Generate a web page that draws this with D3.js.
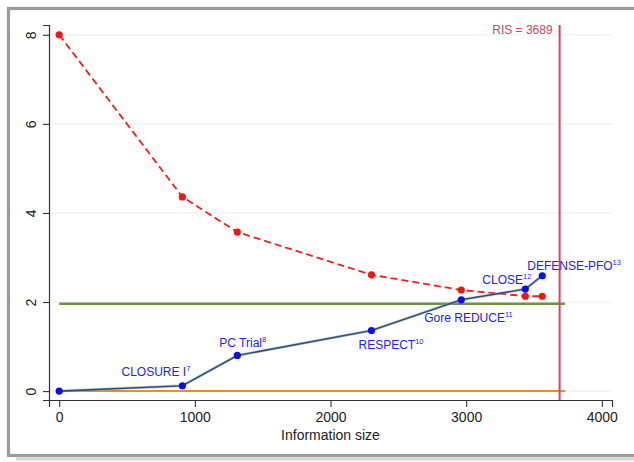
<!DOCTYPE html>
<html>
<head>
<meta charset="utf-8">
<script src="https://cdn.jsdelivr.net/npm/d3@7"></script>
<style>
  html, body { margin: 0; padding: 0; background: #fff; }
  svg { display: block; font-family: "Liberation Sans", Arial, sans-serif; }
</style>
</head>
<body>
<svg id="chart" width="634" height="462"></svg>
<script>
// Cumulative information size after each trial
const infoSize = [0, 908, 1313, 2302, 2964, 3436, 3561];
// Cumulative Z-curve
const zCurve = [0, 0.12, 0.80, 1.36, 2.05, 2.29, 2.59];
// Trial sequential monitoring boundary
const boundary = [8, 4.36, 3.57, 2.61, 2.27, 2.13, 2.13];
// Trial names and their reference numbers
const trialNames = ["", "CLOSURE I", "PC Trial", "RESPECT", "Gore REDUCE", "CLOSE", "DEFENSE-PFO"];
const trialRefs = ["", "7", "8", "10", "11", "12", "13"];
// Axis ticks
const xTicks = [0, 1000, 2000, 3000, 4000];
const yTicks = [0, 2, 4, 6, 8];
// Reference lines
const ris = 3689;
const conventionalZ = 1.96;
const refLineEnd = 3730;

const svg = d3.select("#chart");

// outer frame with a soft shadow under the bottom edge
svg.append("line").attr("x1", 16).attr("x2", 634).attr("y1", 459).attr("y2", 459)
  .attr("stroke", "#d4d4d4").attr("stroke-width", 3);
svg.append("rect").attr("x", 8.5).attr("y", 8.5).attr("width", 640).attr("height", 447)
  .attr("fill", "none").attr("stroke", "#9b9b9b").attr("stroke-width", 3.2);

const x = d3.scaleLinear().domain([-75, 4075]).range([49, 612]);
const y = d3.scaleLinear().domain([-0.2, 8.22]).range([400, 25]);

// horizontal grid
svg.append("g").selectAll("line").data(yTicks).join("line")
  .attr("x1", x(-75)).attr("x2", x(4075))
  .attr("y1", d => y(d)).attr("y2", d => y(d))
  .attr("stroke", "#e9f2f3").attr("stroke-width", 1.2);

// axes
const xAxis = svg.append("g").attr("transform", `translate(0,${y(-0.2)})`)
  .call(d3.axisBottom(x).tickValues(xTicks).tickFormat(d3.format("d"))
    .tickSizeOuter(0).tickSize(7).tickPadding(5));
const yAxis = svg.append("g").attr("transform", `translate(${x(-75)},0)`)
  .call(d3.axisLeft(y).tickValues(yTicks).tickFormat(d3.format("d"))
    .tickSizeOuter(0).tickSize(6).tickPadding(0));
[xAxis, yAxis].forEach(a => {
  a.attr("font-size", 14).attr("font-family", "'Liberation Sans', Arial, sans-serif");
  a.selectAll("path.domain").attr("stroke", "#333").attr("stroke-width", 1.2);
  a.selectAll(".tick line").attr("stroke", "#333").attr("stroke-width", 1.1);
  a.selectAll("text").attr("fill", "#222");
});
yAxis.selectAll(".tick text")
  .attr("x", null).attr("dy", null)
  .attr("text-anchor", "middle")
  .attr("transform", "translate(-18,0) rotate(-90)")
  .attr("dy", "0.35em");

svg.append("text").attr("x", x(2000)).attr("y", 440)
  .attr("text-anchor", "middle").attr("font-size", 14).attr("fill", "#222")
  .text("Information size");

// conventional significance level and null line
svg.append("line").attr("x1", x(0)).attr("x2", x(refLineEnd))
  .attr("y1", y(conventionalZ)).attr("y2", y(conventionalZ))
  .attr("stroke", "#6f9242").attr("stroke-width", 2.4);
svg.append("line").attr("x1", x(0)).attr("x2", x(refLineEnd))
  .attr("y1", y(0)).attr("y2", y(0))
  .attr("stroke", "#e98e2a").attr("stroke-width", 2);

// required information size
svg.append("line").attr("x1", x(ris)).attr("x2", x(ris))
  .attr("y1", y(8.22)).attr("y2", y(-0.2))
  .attr("stroke", "#d9425f").attr("stroke-width", 2);
svg.append("text").attr("x", x(ris) - 7).attr("y", 34)
  .attr("text-anchor", "end").attr("font-size", 12).attr("fill", "#d9425f")
  .text("RIS = " + ris);

// monitoring boundary
const bPts = infoSize.map((d, i) => [d, boundary[i]]);
svg.append("path").datum(bPts)
  .attr("d", d3.line().x(d => x(d[0])).y(d => y(d[1])))
  .attr("fill", "none").attr("stroke", "#ff1a1a").attr("stroke-width", 1.8)
  .attr("stroke-dasharray", "7,4");
svg.append("g").selectAll("circle").data(bPts).join("circle")
  .attr("cx", d => x(d[0])).attr("cy", d => y(d[1])).attr("r", 3.6)
  .attr("fill", "#ff1010");

// cumulative Z-curve
const zPts = infoSize.map((d, i) => [d, zCurve[i]]);
svg.append("path").datum(zPts)
  .attr("d", d3.line().x(d => x(d[0])).y(d => y(d[1])))
  .attr("fill", "none").attr("stroke", "#9fb4c8").attr("stroke-width", 3).attr("opacity", 0.5);
svg.append("path").datum(zPts)
  .attr("d", d3.line().x(d => x(d[0])).y(d => y(d[1])))
  .attr("fill", "none").attr("stroke", "#2c5175").attr("stroke-width", 1.6);
svg.append("g").selectAll("circle").data(zPts).join("circle")
  .attr("cx", d => x(d[0])).attr("cy", d => y(d[1])).attr("r", 3.6)
  .attr("fill", "#0a0aff");

// trial labels: offsets from each point and text anchor
const labelLayout = [
  null,
  { dx: 8, dy: -10, anchor: "end" },
  { dx: -18, dy: -8, anchor: "start" },
  { dx: -13, dy: 18, anchor: "start" },
  { dx: -37, dy: 22, anchor: "start" },
  { dx: -43, dy: -5, anchor: "start" },
  { dx: -15, dy: -6, anchor: "start" }
];
const lbl = svg.append("g");
trialNames.forEach((name, i) => {
  if (!name) return;
  const L = labelLayout[i];
  const t = lbl.append("text")
    .attr("x", x(infoSize[i]) + L.dx).attr("y", y(zCurve[i]) + L.dy)
    .attr("text-anchor", L.anchor).attr("font-size", 12).attr("fill", "#2020ff");
  t.append("tspan").text(name);
  t.append("tspan").attr("dy", -5).attr("font-size", 7.5).text(trialRefs[i]);
});
</script>
</body>
</html>
